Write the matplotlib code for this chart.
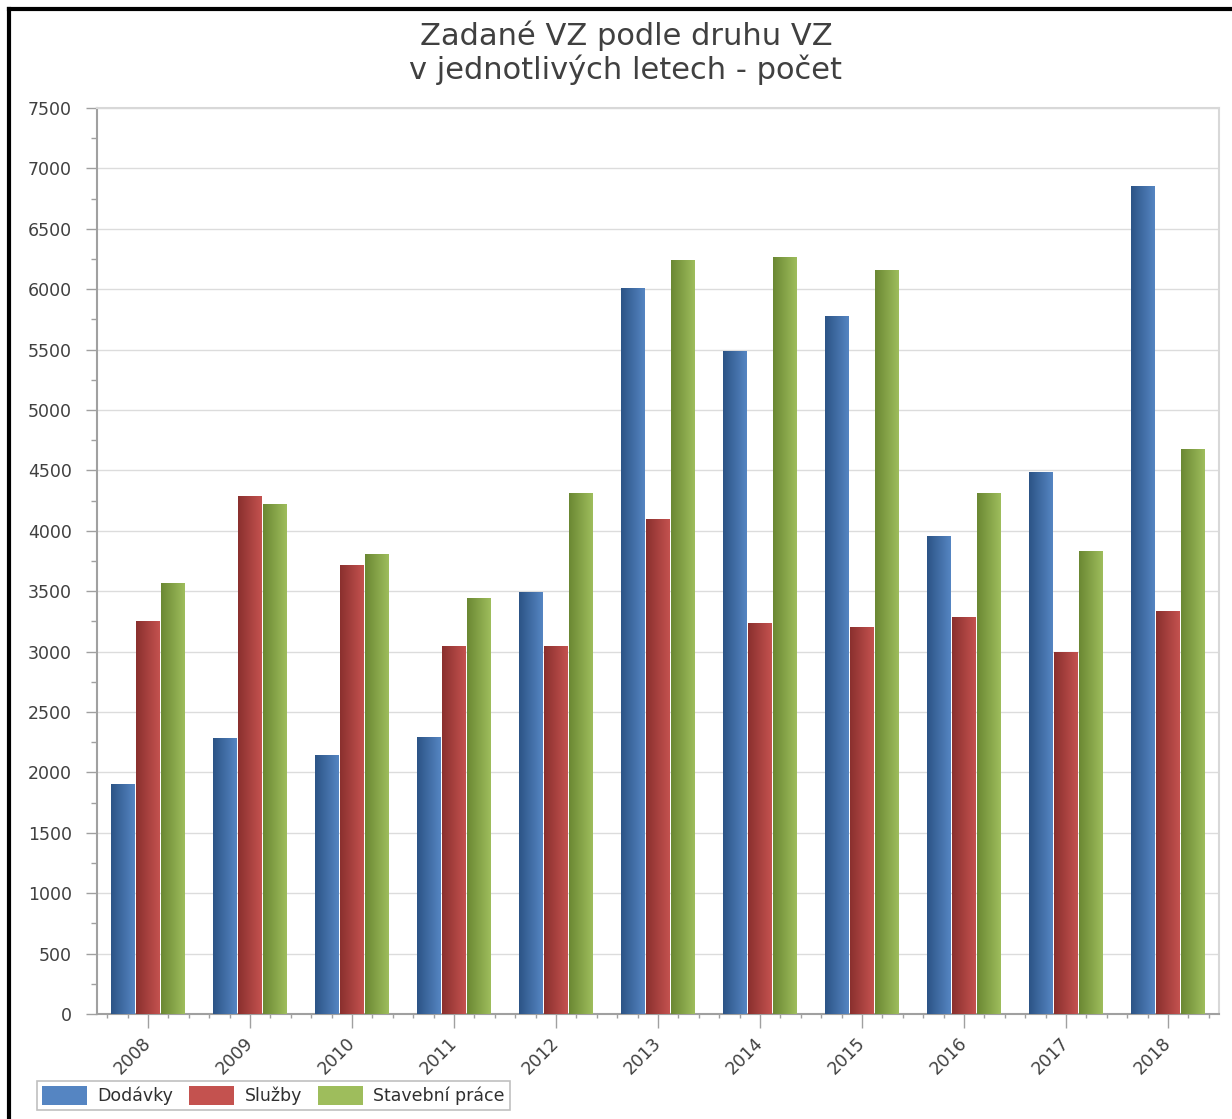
import numpy as np
import matplotlib
matplotlib.use("Agg")
import matplotlib.pyplot as plt
from matplotlib.colors import LinearSegmentedColormap
from matplotlib.patches import Patch
from matplotlib.lines import Line2D

years = ["2008", "2009", "2010", "2011", "2012", "2013",
         "2014", "2015", "2016", "2017", "2018"]
dodavky = [1900, 2285, 2140, 2295, 3490, 6010, 5490, 5780, 3955, 4490, 6855]
sluzby = [3250, 4285, 3715, 3045, 3045, 4095, 3235, 3200, 3285, 3000, 3335]
stavebni = [3570, 4220, 3810, 3440, 4310, 6240, 6270, 6155, 4310, 3835, 4680]
series_names = ["Dodávky", "Služby", "Stavební práce"]

# (dark, light) gradient ends per series
grad_colors = [("#2c5486", "#5585c2"),
               ("#8a302e", "#c4524f"),
               ("#6b8833", "#9ebd5c")]

fig = plt.figure(figsize=(12.32, 11.19), dpi=100)
ax = fig.add_axes([97 / 1232, 1 - 1014 / 1119, 1122 / 1232, 906 / 1119])

n = len(years)
x = np.arange(n)
w = 0.235
offsets = [-w - 0.008, 0, w + 0.008]
all_series = [dodavky, sluzby, stavebni]

grad = np.linspace(0, 1, 64).reshape(1, -1)
for vals, off, (c0, c1) in zip(all_series, offsets, grad_colors):
    cmap = LinearSegmentedColormap.from_list("g", [c0, c1])
    bars = ax.bar(x + off, vals, width=w, color=c1, edgecolor="none", zorder=2)
    for b in bars:
        x0 = b.get_x()
        h = b.get_height()
        im = ax.imshow(grad, extent=[x0, x0 + w, 0, h], aspect="auto",
                       cmap=cmap, zorder=3, interpolation="bilinear")
        im.set_clip_path(b)

ax.set_xlim(-0.5, n - 0.5)
ax.set_ylim(0, 7500)
ax.set_yticks(np.arange(0, 7501, 500))
ax.set_yticks(np.arange(250, 7500, 500), minor=True)
ax.set_xticks(x)
minor_x = [v for v in np.arange(-0.4, n - 0.5, 0.2) if abs(v - round(v)) > 0.05]
ax.set_xticks(minor_x, minor=True)
ax.set_xticklabels(years, rotation=45, ha="right", va="center",
                   rotation_mode="anchor", fontsize=12.5, color="#404040")
ax.tick_params(axis="y", labelsize=12.5, labelcolor="#404040", pad=10)
ax.tick_params(which="major", color="#a0a0a0", length=8, width=1)
ax.tick_params(which="minor", color="#a0a0a0", length=4, width=1)
ax.tick_params(axis="x", which="major", length=10, pad=9)
ax.tick_params(axis="x", which="minor", length=3)

ax.grid(axis="y", color="#dcdcdc", lw=1, zorder=0)
ax.set_axisbelow(True)
for side in ["left", "bottom"]:
    ax.spines[side].set_color("#a0a0a0")
    ax.spines[side].set_linewidth(1.5)
for side in ["top", "right"]:
    ax.spines[side].set_color("#d8d8d8")
    ax.spines[side].set_linewidth(1.5)

fig.text(0.508, 0.982, "Zadané VZ podle druhu VZ\nv jednotlivých letech - počet",
         ha="center", va="top", fontsize=22, color="#404040", linespacing=1.15)

handles = [Patch(facecolor=c1, edgecolor="none") for c0, c1 in grad_colors]
leg = fig.legend(handles, series_names, loc="lower left",
                 bbox_to_anchor=(28 / 1232, 0), ncol=3, fontsize=12.5,
                 frameon=True, fancybox=False, handlelength=2.6, handleheight=1.3,
                 handletextpad=0.6, columnspacing=0.9, borderpad=0.3)
leg.get_frame().set_edgecolor("#b0b0b0")
leg.get_frame().set_linewidth(1.2)
for t in leg.get_texts():
    t.set_color("#303030")

# black frame at top and left of the image
fig.add_artist(Line2D([9 / 1232, 9 / 1232], [0, 1 - 9 / 1119],
                      transform=fig.transFigure, color="black", lw=3))
fig.add_artist(Line2D([9 / 1232, 1], [1 - 9 / 1119, 1 - 9 / 1119],
                      transform=fig.transFigure, color="black", lw=3))

fig.savefig("out.png", dpi=100)
